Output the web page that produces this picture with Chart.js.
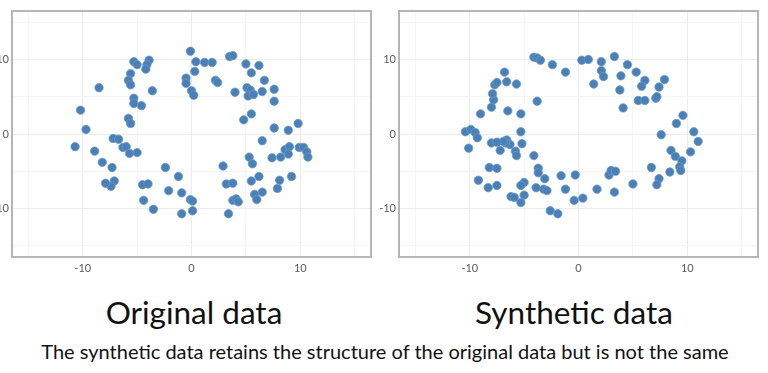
<!DOCTYPE html>
<html>
<head>
<meta charset="utf-8">
<script src="https://cdn.jsdelivr.net/npm/chart.js@4/dist/chart.umd.min.js"></script>
<style>
  html, body { margin: 0; padding: 0; background: #ffffff; overflow: hidden; }
  body { width: 768px; height: 373px; position: relative; }
  .wrap { position: absolute; top: 0; width: 392px; height: 276px; }
  #w1 { left: -16px; }
  #w2 { left: 371px; }
  .title { position: absolute; top: 293px; font-family: Lato, "Open Sans", sans-serif; font-size: 31.5px; color: #111; white-space: nowrap; transform: translateX(-50%); }
  #t1 { left: 194px; }
  #t2 { left: 574px; }
  #cap { position: absolute; top: 339px; left: 385px; transform: translateX(-50%); font-family: Lato, "Open Sans", sans-serif; font-size: 20px; color: #111; white-space: nowrap; }
</style>
</head>
<body>
<div class="wrap" id="w1"><canvas id="c1"></canvas></div>
<div class="wrap" id="w2"><canvas id="c2"></canvas></div>
<div class="title" id="t1">Original data</div>
<div class="title" id="t2">Synthetic data</div>
<div id="cap">The synthetic data retains the structure of the original data but is not the same</div>
<script>
const panelTitles = ["Original data", "Synthetic data"];
const caption = "The synthetic data retains the structure of the original data but is not the same";
const tickLabels = [-10, 0, 10];

const originalX = [-0.1, 0.4, 1.2, 1.9, 0.3, -0.5, -0.5, 0.0, 0.2, 2.2, 2.4, 3.5, 3.8, 5.0, 6.2, 5.5, 6.7, 4.0, 5.1, 5.4, 5.2, 5.7, 6.5, 7.6, 7.6, 5.5, 4.8, 7.6, 8.9, 9.8, 6.5, 9.9, 10.3, 10.6, 10.7, 8.6, 9.0, 8.9, 7.4, 8.2, 5.3, 5.6, 9.2, 8.1, 7.9, 6.2, 5.5, 6.5, 5.8, 6.0, 2.9, 3.2, 3.8, 3.8, 4.1, 4.3, 3.4, -1.2, -2.4, -2.1, -0.9, -0.1, 0.1, 0.1, -0.9, -3.5, -4.4, -4.5, -4.0, -7.3, -7.1, -7.4, -7.9, -8.2, -8.9, -10.7, -9.7, -10.2, -8.5, -7.2, -6.7, -6.3, -6.0, -5.7, -5.0, -5.8, -5.6, -5.3, -5.3, -4.6, -3.6, -5.6, -5.8, -5.6, -5.3, -5.0, -3.9, -4.1, -4.2];
const originalY = [11.1, 9.7, 9.6, 9.6, 8.4, 7.5, 6.8, 5.8, 5.2, 7.2, 6.9, 10.4, 10.5, 9.4, 9.2, 8.2, 7.2, 5.6, 6.2, 5.9, 5.1, 5.3, 5.7, 6.0, 4.4, 2.7, 1.9, 0.8, 0.5, 1.4, -0.9, -1.8, -1.8, -2.4, -3.1, -2.1, -1.7, -2.7, -3.2, -3.1, -3.1, -4.0, -5.7, -6.2, -7.3, -5.7, -6.3, -7.8, -8.1, -8.8, -4.3, -6.7, -6.6, -8.9, -8.7, -9.1, -10.7, -5.7, -4.5, -7.6, -7.9, -8.8, -9.0, -10.3, -10.7, -10.1, -8.9, -6.8, -6.7, -4.5, -6.3, -7.0, -6.6, -3.8, -2.3, -1.7, 0.6, 3.2, 6.2, -0.6, -0.7, -1.8, -1.7, -2.6, -2.5, 2.1, 1.4, 4.8, 4.1, 3.8, 5.8, 8.1, 7.2, 6.6, 9.7, 9.3, 9.9, 9.3, 8.7];

const syntheticX = [-4.1, -3.8, -3.5, -2.4, -1.2, 0.3, 0.9, 2.1, 2.1, 2.3, 1.4, 3.3, 4.5, 3.9, 3.8, 4.1, 5.3, 6.1, 5.8, 5.5, 6.1, 7.1, 7.2, 7.4, 7.9, 7.6, 9.0, 9.6, 10.6, 11.0, 8.5, 8.9, 10.3, 9.5, 9.3, 9.4, 8.4, 6.7, 7.4, 7.2, 5.0, 3.3, 2.8, 3.0, 3.4, 1.7, 0.4, -0.4, -0.3, -1.6, -1.2, -2.6, -1.9, -3.1, -3.2, -2.9, -3.7, -3.7, -4.1, -3.9, -5.0, -5.3, -5.0, -5.3, -6.2, -5.9, -7.5, -8.3, -9.2, -8.2, -7.5, -7.2, -5.8, -5.7, -5.3, -5.2, -5.3, -6.5, -6.6, -6.3, -6.7, -6.9, -8.0, -7.5, -10.1, -10.4, -9.9, -9.5, -9.3, -9.0, -8.0, -7.8, -7.9, -7.7, -7.5, -6.8, -6.6, -5.7, -3.8];
const syntheticY = [10.3, 10.2, 9.9, 9.3, 8.3, 9.9, 10.0, 9.7, 8.5, 7.7, 6.7, 10.4, 9.3, 7.8, 5.9, 3.5, 8.3, 7.2, 6.4, 4.5, 4.5, 4.8, 5.0, 6.3, 7.3, -0.1, 1.4, 2.5, 0.3, -1.0, -2.2, -3.0, -2.4, -3.6, -4.4, -4.9, -5.1, -4.5, -6.0, -6.8, -6.7, -7.8, -5.5, -4.9, -5.0, -7.4, -8.6, -8.9, -5.5, -5.6, -7.4, -10.3, -10.7, -6.0, -7.4, -7.6, -4.6, -5.2, -2.9, -7.2, -6.5, -6.9, -8.2, -9.2, -8.4, -8.5, -6.9, -7.2, -6.2, -4.5, -4.6, -2.2, -2.3, -2.9, 0.3, -1.3, 2.7, 3.1, -0.8, -1.4, -1.2, -1.0, -1.2, -1.1, -1.9, 0.3, 0.6, 0.2, -0.5, 2.7, 3.6, 4.6, 5.4, 6.6, 6.9, 8.3, 7.0, 6.7, 4.4];

function toPoints(xs, ys) { return xs.map((x, i) => ({ x: x, y: ys[i] })); }

const framePlugin = {
  id: 'frame',
  afterDraw(chart) {
    const a = chart.chartArea, ctx = chart.ctx;
    ctx.save();
    ctx.strokeStyle = '#b5b5b5';
    ctx.lineWidth = 2;
    ctx.strokeRect(a.left, a.top, a.right - a.left, a.bottom - a.top);
    ctx.restore();
  }
};

function axis(isY) {
  return {
    type: 'linear',
    min: -16.5,
    max: 16.5,
    border: { display: false },
    grid: {
      drawTicks: false,
      lineWidth: 1,
      color: (c) => (c.tick && c.tick.value % 10 === 0) ? '#ececec' : '#f6f6f6'
    },
    ticks: {
      stepSize: 5,
      includeBounds: false,
      autoSkip: false,
      maxRotation: 0,
      padding: isY ? 3 : 5,
      color: '#5a5a5a',
      font: { family: 'Lato, "Open Sans", sans-serif', size: 11 },
      callback: (v) => tickLabels.includes(v) ? String(v) : ''
    },
    afterFit: (s) => { if (isY) s.width = 28; else s.height = 19; }
  };
}

function makeChart(id, xs, ys) {
  return new Chart(document.getElementById(id), {
    type: 'scatter',
    data: { datasets: [{ data: toPoints(xs, ys), backgroundColor: '#4a80b5', borderColor: '#6a9bc8', borderWidth: 0.8, pointRadius: 4.2, pointHoverRadius: 4.2 }] },
    options: {
      responsive: true,
      maintainAspectRatio: false,
      animation: false,
      events: [],
      layout: { padding: { top: 11, right: 3, left: 0, bottom: 0 } },
      plugins: { legend: { display: false }, tooltip: { enabled: false } },
      scales: { x: axis(false), y: axis(true) }
    },
    plugins: [framePlugin]
  });
}

makeChart('c1', originalX, originalY);
makeChart('c2', syntheticX, syntheticY);
</script>
</body>
</html>
